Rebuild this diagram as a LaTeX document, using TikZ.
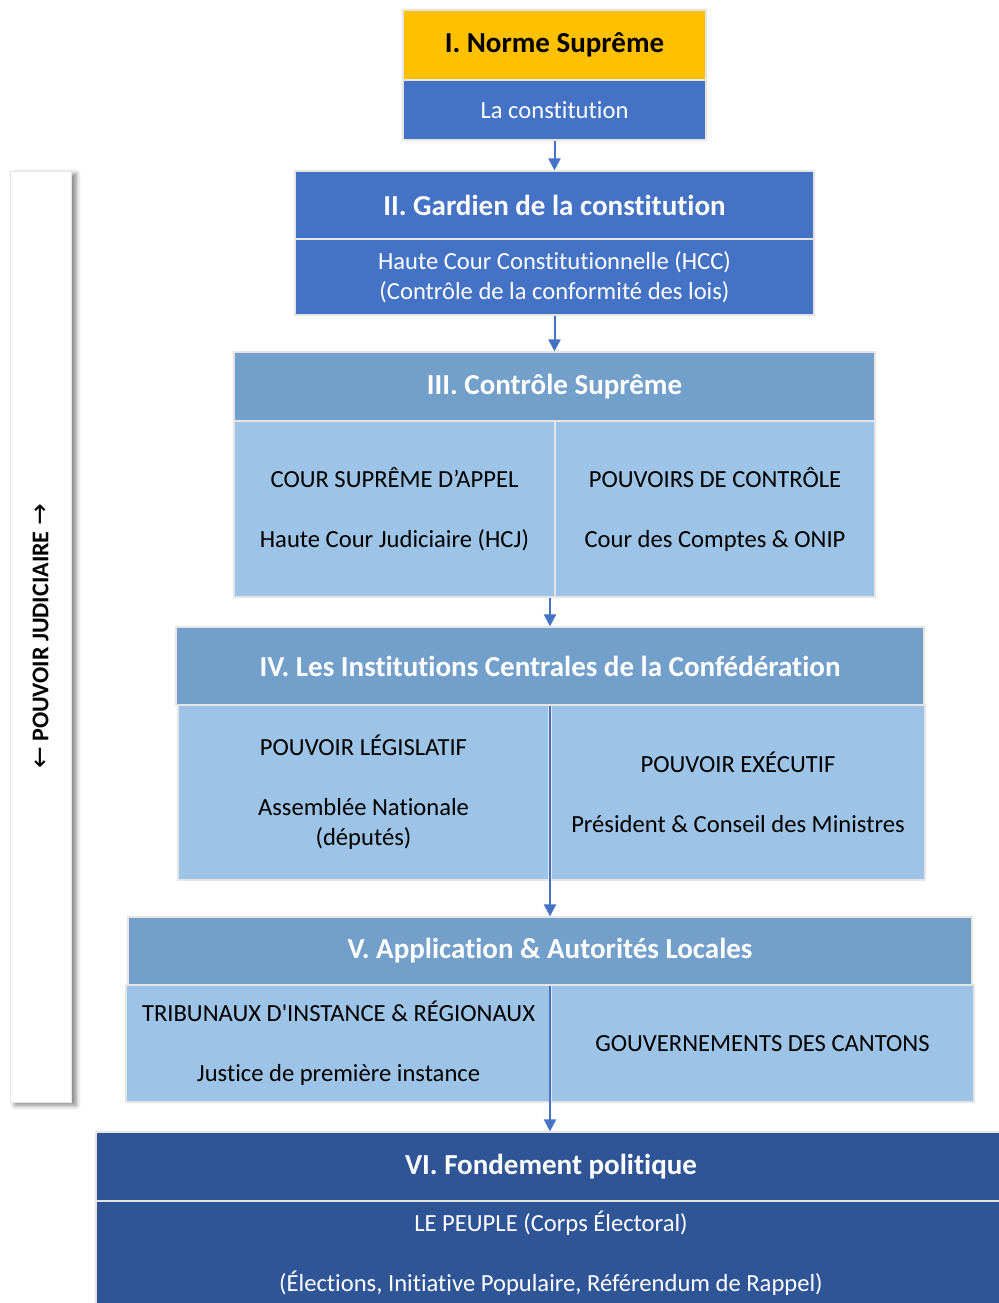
\documentclass[tikz,border=0pt]{standalone}
\usepackage{fontspec}
\setmainfont{Carlito}[Ligatures={TeX,NoCommon}]
\newfontfamily\arrowfont{DejaVu Sans}
\usetikzlibrary{arrows.meta,shadows.blur}
\definecolor{normyellow}{HTML}{FFC000}
\definecolor{boxblue}{HTML}{4472C4}
\definecolor{bandblue}{HTML}{739FCB}
\definecolor{paleblue}{HTML}{9DC3E6}
\definecolor{deepblue}{HTML}{2F5597}
\tikzset{
  band/.style={rectangle,draw=gray!20,line width=0.6pt,inner sep=0pt,text=white,
    font=\bfseries\fontsize{14.5}{17}\selectfont},
  panel/.style={rectangle,draw=gray!20,line width=0.6pt,inner sep=0pt,align=center,
    font=\fontsize{12.3}{15}\selectfont},
  flow/.style={draw=boxblue,line width=1pt,-{Triangle[width=6pt,length=6pt]}},
}
\begin{document}
\begin{tikzpicture}[x=0.5pt,y=-0.5pt]
\useasboundingbox (0,0) rectangle (998,1303);
% left bar
\node[rectangle,draw=gray!20,fill=white,minimum width=30.5pt,minimum height=465.5pt,
  blur shadow={shadow xshift=2.5pt,shadow yshift=-1.5pt,shadow blur radius=2.5pt,shadow opacity=50}] (judic) at (40.5,636.5) {};
\node[rotate=90,font=\bfseries\fontsize{12}{14}\selectfont] (judtxt) at (judic.center)
  {{\arrowfont\mdseries\fontsize{13}{14}\selectfont ←} POUVOIR JUDICIAIRE {\arrowfont\mdseries\fontsize{13}{14}\selectfont →}};
% I
\node[band,fill=normyellow,text=black,minimum width=151.5pt,minimum height=35pt] (norme) at (554.5,45) {I. Norme Suprême};
\node[panel,fill=boxblue,text=white,minimum width=151.5pt,minimum height=30pt] (consti) at (554.5,110) {La constitution};
% II
\node[band,fill=boxblue,minimum width=259.5pt,minimum height=34pt] (gardien) at (554.5,205) {II. Gardien de la constitution};
\node[panel,fill=boxblue,text=white,minimum width=259.5pt,minimum height=38pt] (hcc) at (554.5,277)
  {Haute Cour Constitutionnelle (HCC)\\(Contrôle de la conformité des lois)};
% III
\node[band,fill=bandblue,minimum width=320.5pt,minimum height=34.5pt] (ctrl) at (554.5,386.5) {III. Contrôle Suprême};
\node[panel,fill=paleblue,minimum width=160.5pt,minimum height=88pt] (appel) at (394.5,509)
  {COUR SUPRÊME D’APPEL\\[15pt]Haute Cour Judiciaire (HCJ)};
\node[panel,fill=paleblue,minimum width=160pt,minimum height=88pt] (pouvctrl) at (715,509)
  {POUVOIRS DE CONTRÔLE\\[15pt]Cour des Comptes \& ONIP};
% IV
\node[band,fill=bandblue,minimum width=374pt,minimum height=39pt] (institutions) at (550,666)
  {IV. Les Institutions Centrales de la Confédération};
\node[panel,fill=paleblue,minimum width=185.5pt,minimum height=87.5pt] (legis) at (363.5,792.5)
  {POUVOIR LÉGISLATIF\\[15pt]Assemblée Nationale\\(députés)};
\node[panel,fill=paleblue,minimum width=187pt,minimum height=87.5pt] (exec) at (738,792.5)
  {POUVOIR EXÉCUTIF\\[15pt]Président \& Conseil des Ministres};
% V
\node[band,fill=bandblue,minimum width=422pt,minimum height=34pt] (applic) at (550,951) {V. Application \& Autorités Locales};
\node[panel,fill=paleblue,minimum width=212.5pt,minimum height=58.5pt] (tribu) at (338.5,1043.5)
  {TRIBUNAUX D\textquotesingle INSTANCE \& RÉGIONAUX\\[15pt]Justice de première instance};
\node[panel,fill=paleblue,minimum width=211.5pt,minimum height=58.5pt] (cantons) at (762.5,1043.5)
  {GOUVERNEMENTS DES CANTONS};
% VI
\node[band,fill=deepblue,minimum width=455pt,minimum height=34.5pt] (fondement) at (551,1166.5) {VI. Fondement politique};
\node[panel,fill=deepblue,text=white,minimum width=455pt,minimum height=52pt] (peuple) at (551,1253)
  {LE PEUPLE (Corps Électoral)\\[15pt](Élections, Initiative Populaire, Référendum de Rappel)};
% arrows
\draw[flow] (consti.south) -- (gardien.north);
\draw[flow] (hcc.south) -- (ctrl.north);
\draw[flow] (institutions.north |- appel.south) -- (institutions.north);
\draw[flow] (institutions.south) -- (applic.north);
\draw[flow] (applic.south) -- (applic.south |- fondement.north);
\end{tikzpicture}
\end{document}
